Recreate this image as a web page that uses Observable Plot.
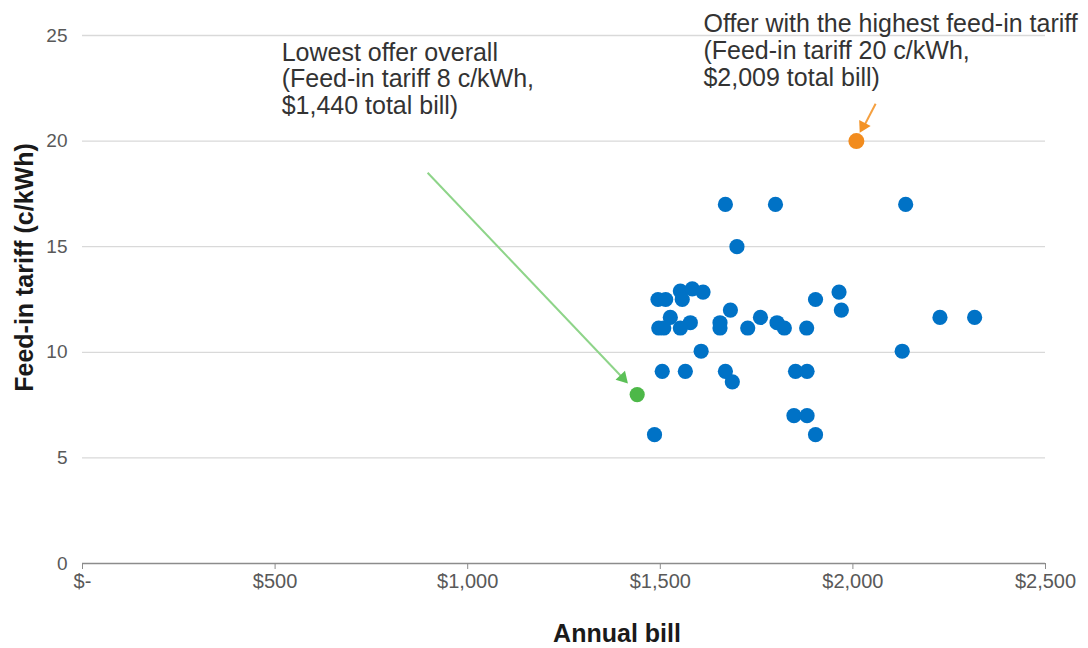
<!DOCTYPE html>
<html>
<head>
<meta charset="utf-8">
<script src="https://cdn.jsdelivr.net/npm/d3@7"></script>
<script src="https://cdn.jsdelivr.net/npm/@observablehq/plot@0.6"></script>
<style>
  html, body { margin: 0; padding: 0; background: #fff; }
  #chart svg { display: block; }
</style>
</head>
<body>
<div id="chart"></div>
<script>
// Annual bill ($) and feed-in tariff (c/kWh) for each offer
const bills   = [1669, 1799, 2137, 1699, 1494, 1514, 1552, 1557, 1583, 1611, 1903, 1964, 1682, 1970,
                 1526, 1760, 2226, 2316, 1578, 1655, 1803, 1496, 1509, 1552, 1655, 1727, 1822, 1880,
                 1606, 2128, 1505, 1565, 1669, 1851, 1881, 1687, 1847, 1881, 1485, 1903];
const tariffs = [17, 17, 17, 15, 12.5, 12.5, 12.9, 12.5, 13, 12.85, 12.5, 12.85, 12, 12,
                 11.65, 11.65, 11.65, 11.65, 11.4, 11.4, 11.4, 11.15, 11.15, 11.15, 11.15, 11.15, 11.15, 11.15,
                 10.05, 10.05, 9.1, 9.1, 9.1, 9.1, 9.1, 8.6, 7, 7, 6.1, 6.1];

const lowestOffer  = {bill: 1440, tariff: 8};
const highestOffer = {bill: 2009, tariff: 20};

const xTicks = [0, 500, 1000, 1500, 2000, 2500];
const yTicks = [0, 5, 10, 15, 20, 25];

const annotations = [
  {bill: 517,  tariff: 22.95, text: "Lowest offer overall\n(Feed-in tariff 8 c/kWh,\n$1,440 total bill)"},
  {bill: 1612, tariff: 24.3,  text: "Offer with the highest feed-in tariff\n(Feed-in tariff 20 c/kWh,\n$2,009 total bill)"}
];
const arrows = [
  {x1: 896,  y1: 18.5,  x2: 1404, y2: 8.76,  color: "#8ed489", head: "#5cc057", angle: 136.8},
  {x1: 2059, y1: 21.77, x2: 2028, y2: 20.68, color: "#f5a040", head: "#f39225", angle: 207.6}
];

const offers = bills.map((b, i) => ({bill: b, tariff: tariffs[i]}));

const font = "'Liberation Sans', Arial, sans-serif";
const fmt = d => d === 0 ? "$-" : "$" + d3.format(",")(d);

const chart = Plot.plot({
  width: 1088,
  height: 648,
  marginLeft: 82,
  marginRight: 43,
  marginTop: 35,
  marginBottom: 85,
  style: {fontFamily: font, background: "#fff", overflow: "visible"},
  x: {domain: [0, 2500]},
  y: {domain: [0, 25]},
  marks: [
    Plot.gridY(yTicks.filter(d => d > 0), {stroke: "#d9d9d9", strokeOpacity: 1, strokeWidth: 1.3}),
    Plot.ruleY([0], {stroke: "#8c8c8c", strokeWidth: 1.5}),
    Plot.axisY({ticks: yTicks, tickSize: 0, tickPadding: 15, label: null,
                fontSize: 19, fill: "#595959"}),
    Plot.axisX({ticks: xTicks, tickSize: 6, tickPadding: 4, tickFormat: fmt, label: null,
                stroke: "#8c8c8c", fontSize: 20, fill: "#595959"}),
    Plot.text(["Feed-in tariff (c/kWh)"], {frameAnchor: "left", textAnchor: "middle", dx: -58, dy: -32, rotate: -90,
                fontSize: 25, fontWeight: "bold", fill: "#1a1a1a"}),
    Plot.text(["Annual bill"], {frameAnchor: "bottom", textAnchor: "middle", dx: 53, dy: 78,
                fontSize: 25, fontWeight: "bold", fill: "#1a1a1a"}),
    Plot.link(arrows, {x1: "x1", y1: "y1", x2: "x2", y2: "y2", stroke: d => d.color, strokeWidth: 2}),
    Plot.dot(arrows, {x: "x2", y: "y2", symbol: "triangle", r: 4.8, fill: d => d.head, stroke: "none",
                rotate: d => d.angle, dx: d => d.angle < 180 ? -4.8 : 3.2, dy: d => d.angle < 180 ? -5.1 : -6.2}),
    Plot.dot(offers, {x: "bill", y: "tariff", r: 7.6, fill: "#0072c6", stroke: "none"}),
    Plot.dot([lowestOffer], {x: "bill", y: "tariff", r: 7.6, fill: "#4db848", stroke: "none"}),
    Plot.dot([highestOffer], {x: "bill", y: "tariff", r: 8, fill: "#f28c1e", stroke: "none"}),
    Plot.text(annotations, {x: "bill", y: "tariff", text: "text", textAnchor: "start", lineAnchor: "middle",
                lineHeight: 1.07, fontSize: 25, fill: "#333333"})
  ]
});
document.getElementById("chart").appendChild(chart);
</script>
</body>
</html>
